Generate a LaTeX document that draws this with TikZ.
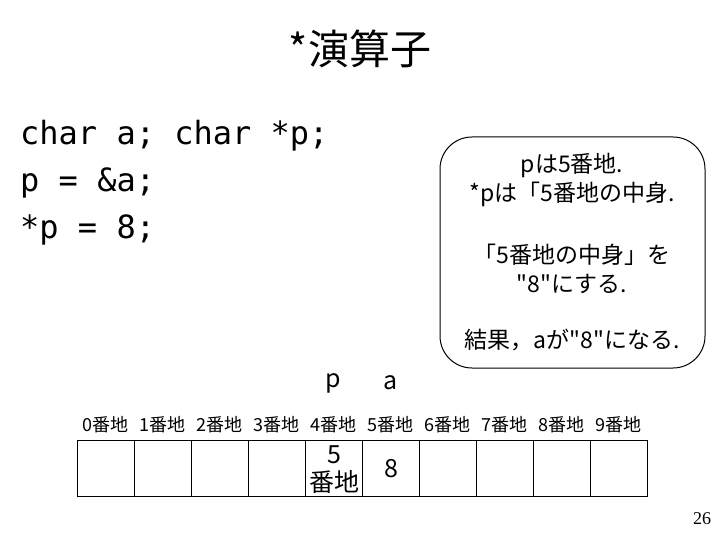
\documentclass[tikz,border=0pt]{standalone}
\usepackage{fontspec}
\setmainfont{Noto Sans CJK JP}[Ligatures=TeXOff]
\newfontfamily\codefont{DejaVu Sans Mono}
\newfontfamily\numfont{Liberation Serif}
\begin{document}
\begin{tikzpicture}[x=1pt,y=-1pt,
  cell/.style={draw,line width=1.2pt,minimum width=57pt,minimum height=56pt,inner sep=0pt,anchor=north west},
  addr/.style={font=\fontsize{18}{20}\selectfont,inner sep=0pt},
  codeline/.style={font=\codefont\fontsize{32}{34}\selectfont,anchor=base west,inner sep=0pt},
  note/.style={font=\fontsize{23}{29}\selectfont,inner sep=0pt,align=center}]
\useasboundingbox (0,0) rectangle (720,540);
\node[font=\fontsize{41}{44}\selectfont,inner sep=0pt] (title) at (360,49) {*演算子};
\node[codeline] (c1) at (20,145) {char a; char *p;};
\node[codeline] (c2) at (20,192) {p = \&a;};
\node[codeline] (c3) at (20,239) {*p = 8;};
\draw[line width=1pt,rounded corners=32pt] (440,137) rectangle (705,368);
\node[note] (n1) at (572,180) {pは5番地.\\*pは「5番地の中身.};
\node[note] (n2) at (572,269) {「5番地の中身」を\\"8"にする.};
\node[note] (n3) at (572,340) {結果，aが"8"になる.};
\foreach \i in {0,...,9}{
  \node[addr] (l\i) at (105.5+57*\i,425) {\i 番地};
  \node[cell] (m\i) at (77+57*\i,440) {};
}
\node[font=\fontsize{25}{26}\selectfont,inner sep=0pt] (vp) at (333.5,383) {p};
\node[font=\fontsize{25}{26}\selectfont,inner sep=0pt] (va) at (390.5,383) {a};
\node[font=\fontsize{25}{28}\selectfont,inner sep=0pt,align=center] (v4) at ([yshift=-1pt]m4.center) {5\\番地};
\node[font=\fontsize{25}{26}\selectfont,inner sep=0pt] (v5) at (m5.center) {8};
\node[font=\numfont\fontsize{18}{20}\selectfont,inner sep=0pt] (pg) at (702,519) {26};
\end{tikzpicture}
\end{document}
